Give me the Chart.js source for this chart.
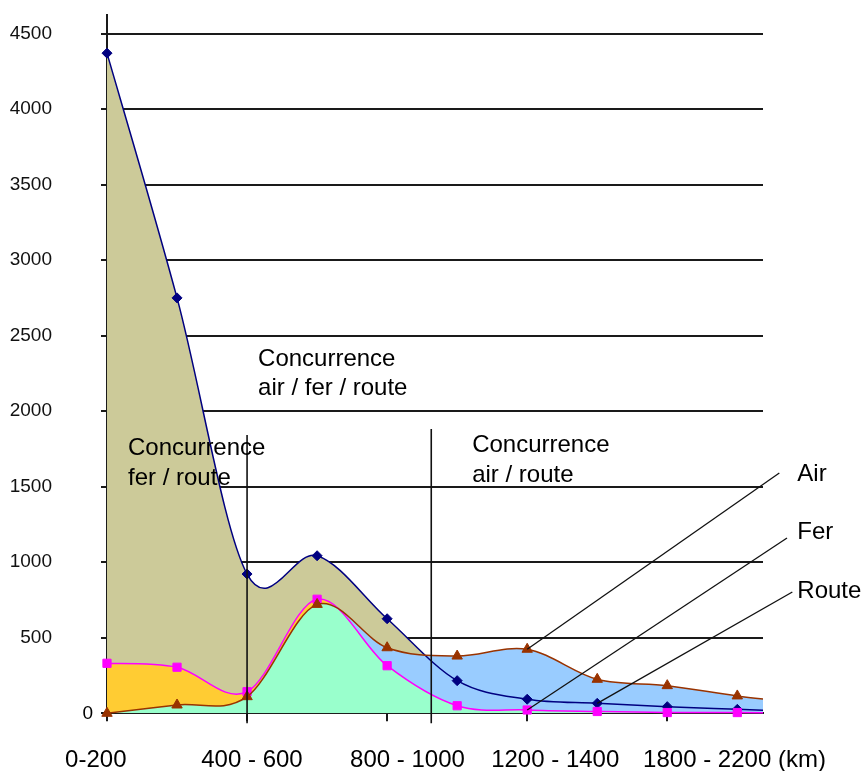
<!DOCTYPE html>
<html>
<head>
<meta charset="utf-8">
<script src="https://cdn.jsdelivr.net/npm/chart.js@4.4.0/dist/chart.umd.min.js"></script>
<style>
  body { margin: 0; background: #fff; }
</style>
</head>
<body>
<canvas id="canvas" width="863" height="771"></canvas>
<script>
// one value per distance band (last one sits past the right edge)
const air   = [4370, 2750, 922, 1043, 626, 216, 93, 66, 44, 26, 8];
const fer   = [331, 305, 143, 755, 315, 50, 22, 12, 5, 5, 2];
const route = [0, 55, 110, 721, 434, 379, 424, 225, 183, 115, 60];

const xLabels   = ['0-200', '400 - 600', '800 - 1000', '1200 - 1400', '1800 - 2200 (km)'];
const xLabelPos = [-0.16, 2.07, 4.29, 6.4, 8.96];
const xTickPos  = [0, 2, 4, 6, 8];
const yTicks    = [0, 500, 1000, 1500, 2000, 2500, 3000, 3500, 4000, 4500];

const zoneTexts = [
    ['Concurrence', 'fer / route'],
    ['Concurrence', 'air / fer / route'],
    ['Concurrence', 'air / route']
];
const seriesNames = ['Air', 'Fer', 'Route'];

const family = "'Liberation Sans', Arial, sans-serif";
const xMax = 9.367;

const pts = arr => arr.map((v, i) => ({x: i, y: v}));

// Excel-like smoothing: control points at 1/6 of the neighbour chord
const smooth = {
    id: 'smooth',
    beforeDraw(chart) {
        chart.getSortedVisibleDatasetMetas().forEach(meta => {
            meta.dataset.updateControlPoints(chart.chartArea, 'x');
            const p = meta.data;
            p.forEach((pt, i) => {
                const a = p[Math.max(i - 1, 0)], b = p[Math.min(i + 1, p.length - 1)];
                const dx = (b.x - a.x) / 6, dy = (b.y - a.y) / 6;
                pt.cp1x = pt.x - dx; pt.cp1y = pt.y - dy;
                pt.cp2x = pt.x + dx; pt.cp2y = pt.y + dy;
            });
        });
    }
};

// text boxes, split lines and the leader lines on the right
const notes = {
    id: 'notes',
    afterDraw(chart) {
        const ctx = chart.ctx;
        const x = chart.scales.x, y = chart.scales.y;
        const px = v => x.getPixelForValue(v), py = v => y.getPixelForValue(v);
        const bottom = chart.chartArea.bottom;
        ctx.save();
        ctx.fillStyle = '#000';
        ctx.strokeStyle = '#111';
        ctx.lineWidth = 1.6;

        // "0" sits apart from the other y labels
        ctx.font = '19px ' + family;
        ctx.textAlign = 'right';
        ctx.textBaseline = 'middle';
        ctx.fillText('0', 93, py(0));

        // split lines
        [[2, 1842], [4.63, 1882]].forEach(s => {
            ctx.beginPath();
            ctx.moveTo(px(s[0]), py(s[1]));
            ctx.lineTo(px(s[0]), bottom + 10);
            ctx.stroke();
        });

        ctx.font = '24px ' + family;
        ctx.textAlign = 'left';
        ctx.textBaseline = 'alphabetic';
        const zonePos = [[0.3, 1710, 1511], [2.157, 2299, 2107], [5.214, 1730, 1531]];
        zoneTexts.forEach((t, i) => {
            ctx.fillText(t[0], px(zonePos[i][0]), py(zonePos[i][1]));
            ctx.fillText(t[1], px(zonePos[i][0]), py(zonePos[i][2]));
        });

        // name labels with lines down to the curves
        ctx.lineWidth = 1.3;
        const leaders = [
            {text: [9.857, 1538], from: [9.6, 1591], to: [6, route[6]]},
            {text: [9.857, 1154], from: [9.71, 1160], to: [6, fer[6]]},
            {text: [9.857, 765], from: [9.786, 803], to: [7, air[7]]}
        ];
        leaders.forEach((l, i) => {
            ctx.beginPath();
            ctx.moveTo(px(l.from[0]), py(l.from[1]));
            ctx.lineTo(px(l.to[0]), py(l.to[1]));
            ctx.stroke();
            ctx.fillText(seriesNames[i], px(l.text[0]), py(l.text[1]));
        });
        ctx.restore();
    }
};

const clip = {left: 8, top: 8, right: 0, bottom: 8};

new Chart(document.getElementById('canvas'), {
    type: 'line',
    data: {
        datasets: [
            {
                label: 'Route',
                data: pts(route),
                order: 1,
                borderColor: '#993300',
                pointBackgroundColor: '#993300',
                pointBorderColor: '#993300',
                pointStyle: 'triangle',
                pointRadius: 6,
                clip: clip,
                fill: {target: 1, above: '#99CCFF', below: '#FFCC33'}
            },
            {
                label: 'Fer',
                data: pts(fer),
                order: 2,
                borderColor: '#FF00FF',
                pointBackgroundColor: '#FF00FF',
                pointBorderColor: '#FF00FF',
                pointStyle: 'rect',
                pointRadius: 5.8,
                clip: clip,
                fill: {target: 'origin', above: '#99FFCC', below: '#99FFCC'}
            },
            {
                label: 'Air',
                data: pts(air),
                order: 3,
                borderColor: '#000080',
                pointBackgroundColor: '#000080',
                pointBorderColor: '#000080',
                pointStyle: 'rectRot',
                pointRadius: 5,
                clip: clip,
                fill: {target: 'origin', above: '#CCCA99', below: '#CCCA99'}
            }
        ]
    },
    options: {
        responsive: false,
        animation: false,
        layout: {padding: {top: 15.4, right: 100, left: 0, bottom: 0}},
        elements: {
            line: {tension: 0.4, borderWidth: 1.5},
            point: {borderWidth: 1}
        },
        plugins: {
            legend: {display: false},
            tooltip: {enabled: false},
            filler: {drawTime: 'beforeDatasetsDraw'}
        },
        scales: {
            x: {
                type: 'linear',
                min: 0,
                max: xMax,
                z: 1,
                weight: 0,
                afterBuildTicks: s => { s.ticks = xTickPos.map(v => ({value: v})); },
                afterFit: s => { s.height = 8; s.paddingLeft = 0; s.paddingRight = 0; },
                grid: {drawOnChartArea: false, tickLength: 8, color: '#1a1a1a', lineWidth: 2},
                border: {color: '#1a1a1a', width: 2},
                ticks: {display: false}
            },
            xl: {
                type: 'linear',
                position: 'bottom',
                min: 0,
                max: xMax,
                weight: 1,
                afterBuildTicks: s => { s.ticks = xLabelPos.map(v => ({value: v})); },
                afterFit: s => { s.height = 49.7; s.paddingLeft = 0; s.paddingRight = 0; },
                grid: {display: false, drawTicks: false},
                border: {display: false},
                ticks: {
                    autoSkip: false,
                    maxRotation: 0,
                    minRotation: 0,
                    padding: 25,
                    color: '#000',
                    font: {size: 24, family: family},
                    callback: (v, i) => xLabels[i]
                }
            },
            y: {
                min: 0,
                max: 4620,
                z: 1,
                afterBuildTicks: s => { s.ticks = yTicks.map(v => ({value: v})); },
                afterFit: s => { s.width = 107; s.paddingTop = 0; s.paddingBottom = 0; },
                ticks: {
                    autoSkip: false,
                    padding: 49,
                    color: '#111',
                    font: {size: 19, family: family},
                    callback: v => v === 0 ? '' : v
                },
                grid: {color: '#1a1a1a', lineWidth: 2, tickLength: 6},
                border: {color: '#1a1a1a', width: 2}
            }
        }
    },
    plugins: [smooth, notes]
});
</script>
</body>
</html>
